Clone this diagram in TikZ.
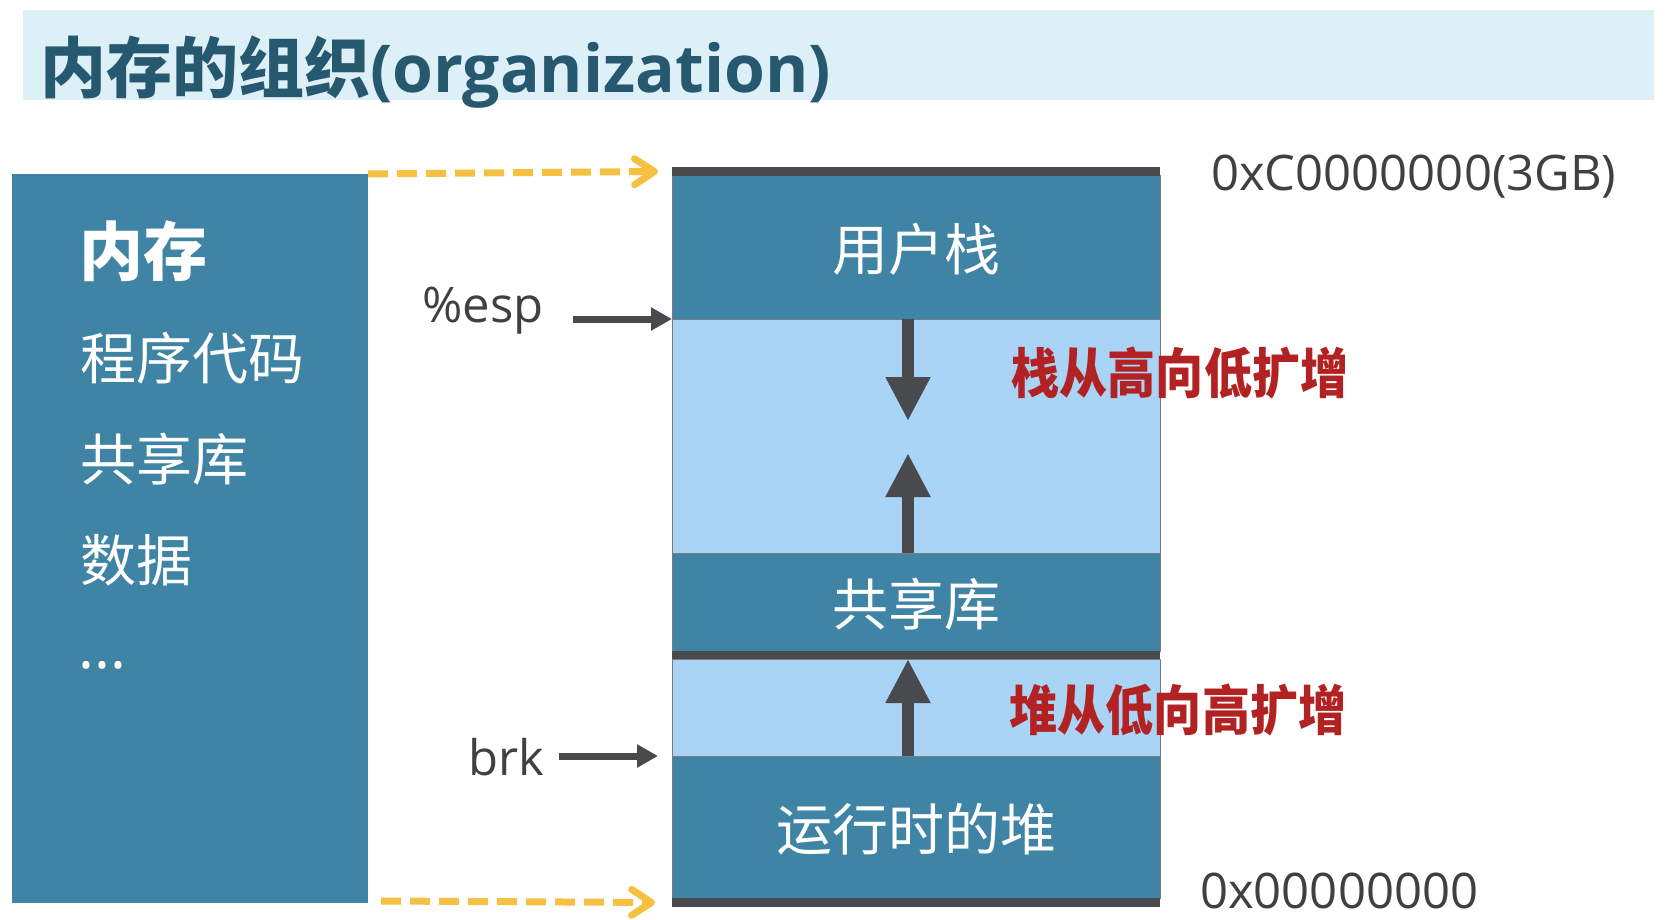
\documentclass[tikz,border=0pt]{standalone}
\usepackage{fontspec}
\setmainfont{Open Sans}
\newfontfamily\cjk{Noto Sans CJK SC}
\usetikzlibrary{arrows.meta}
\definecolor{titlebg}{RGB}{221,240,247}
\definecolor{titlefg}{RGB}{38,88,112}
\definecolor{boxblue}{RGB}{63,132,164}
\definecolor{lightblue}{RGB}{169,212,245}
\definecolor{bargray}{RGB}{73,74,77}
\definecolor{edgegray}{RGB}{120,124,128}
\definecolor{yel}{RGB}{246,193,66}
\definecolor{redtxt}{RGB}{178,34,34}
\definecolor{graytxt}{RGB}{64,64,64}
\begin{document}
\begin{tikzpicture}[x=1pt,y=-1pt,
  blk/.style={fill=boxblue, draw=edgegray, line width=1pt, minimum width=488pt, minimum height=#1, inner sep=0pt, outer sep=0pt, text=white, font=\cjk\fontsize{56pt}{60pt}\selectfont},
  lgt/.style={fill=lightblue, draw=edgegray, line width=1pt, minimum width=488pt, minimum height=#1, inner sep=0pt, outer sep=0pt},
  barbox/.style={fill=bargray, minimum width=488pt, minimum height=#1, inner sep=0pt, outer sep=0pt},
  memtxt/.style={anchor=west, inner sep=0pt, text=white, font=\cjk\fontsize{56pt}{60pt}\selectfont},
  lbl/.style={inner sep=0pt, text=graytxt, font=\fontsize{49pt}{53pt}\selectfont},
  redlbl/.style={inner sep=0pt, text=redtxt, font=\cjk\bfseries\fontsize{54pt}{58pt}\selectfont},
  bigarrow/.style={draw=bargray, line width=12pt, -{Triangle[width=42pt,length=44pt]}},
  garrow/.style={draw=bargray, line width=7pt, -{Triangle[length=21pt,width=22pt]}},
  yarrow/.style={draw=yel, line width=7pt, dash pattern=on 20pt off 9pt, -{Straight Barb[length=20pt,width=26pt,round]}}
]
\useasboundingbox (0,0) rectangle (1670,920);
% title
\node[fill=titlebg, minimum width=1631pt, minimum height=90pt, inner sep=0pt, anchor=north west] (tbar) at (23,10) {};
\node[anchor=west, inner sep=0pt, text=titlefg, font=\fontsize{66pt}{70pt}\selectfont\bfseries] (title) at (40,72) {{\cjk 内存的组织}(organization)};
% left memory box
\node[fill=boxblue, minimum width=356pt, minimum height=729pt, inner sep=0pt, outer sep=0pt, anchor=north west] (mem) at (12,174) {};
\node[memtxt, font=\cjk\bfseries\fontsize{64pt}{68pt}\selectfont] (m0) at (79,251) {内存};
\node[memtxt] (m1) at (80,358) {程序代码};
\node[memtxt] (m2) at (80,459) {共享库};
\node[memtxt] (m3) at (80,560) {数据};
\node[anchor=base west, inner sep=0pt, text=white, font=\fontsize{60pt}{64pt}\selectfont] (m4) at (78,668) {...};
% stack
\node[blk=143pt] (ustack) at (916,247.5) {\raisebox{-2pt}[49pt][7pt]{用户栈}};
\node[lgt=234pt] (gap1) at (916,436) {};
\node[blk=98pt] (shlib) at (916,602) {\raisebox{-2pt}[49pt][7pt]{共享库}};
\node[lgt=97pt] (gap2) at (916,707.5) {};
\node[blk=142pt] (heap) at (916,827) {\raisebox{-2pt}[49pt][7pt]{运行时的堆}};
\node[barbox=9pt] (topbar) at (916,171.5) {};
\node[barbox=8pt] (bar2) at (916,655) {};
\node[barbox=9pt] (botbar) at (916,902.5) {};
% growth arrows
\coordinate (dtip) at (908,421);
\coordinate (utip) at (908,453);
\coordinate (htip) at (908,659);
\draw[bigarrow] (ustack.south -| dtip) -- (dtip);
\draw[bigarrow] (shlib.north -| utip) -- (utip);
\draw[bigarrow] (heap.north -| htip) -- (htip);
% red labels
\node[redlbl] (r1) at (1180,373) {\scalebox{0.89}[1]{栈从高向低扩增}};
\node[redlbl] (r2) at (1178,710) {\scalebox{0.89}[1]{堆从低向高扩增}};
% pointers
\node[lbl, anchor=east] (esp) at (544,311) {\%esp};
\node[lbl, anchor=east] (brk) at (544,757) {brk};
\draw[garrow] ([xshift=-99pt]ustack.south west) -- (ustack.south west);
\draw[garrow] ([xshift=-113pt]heap.north west) -- ([xshift=-14pt]heap.north west);
% addresses
\node[lbl, anchor=west] (hi) at (1211,177) {0xC0000000(3GB)};
\node[lbl, anchor=west] (lo) at (1200,891) {0x00000000};
% yellow mapping arrows
\draw[yarrow] (mem.north east) -- ([xshift=-14pt]topbar.west);
\draw[yarrow] ([shift={(13pt,2pt)}]mem.south east) -- ([xshift=-17pt]botbar.west);
\end{tikzpicture}
\end{document}
